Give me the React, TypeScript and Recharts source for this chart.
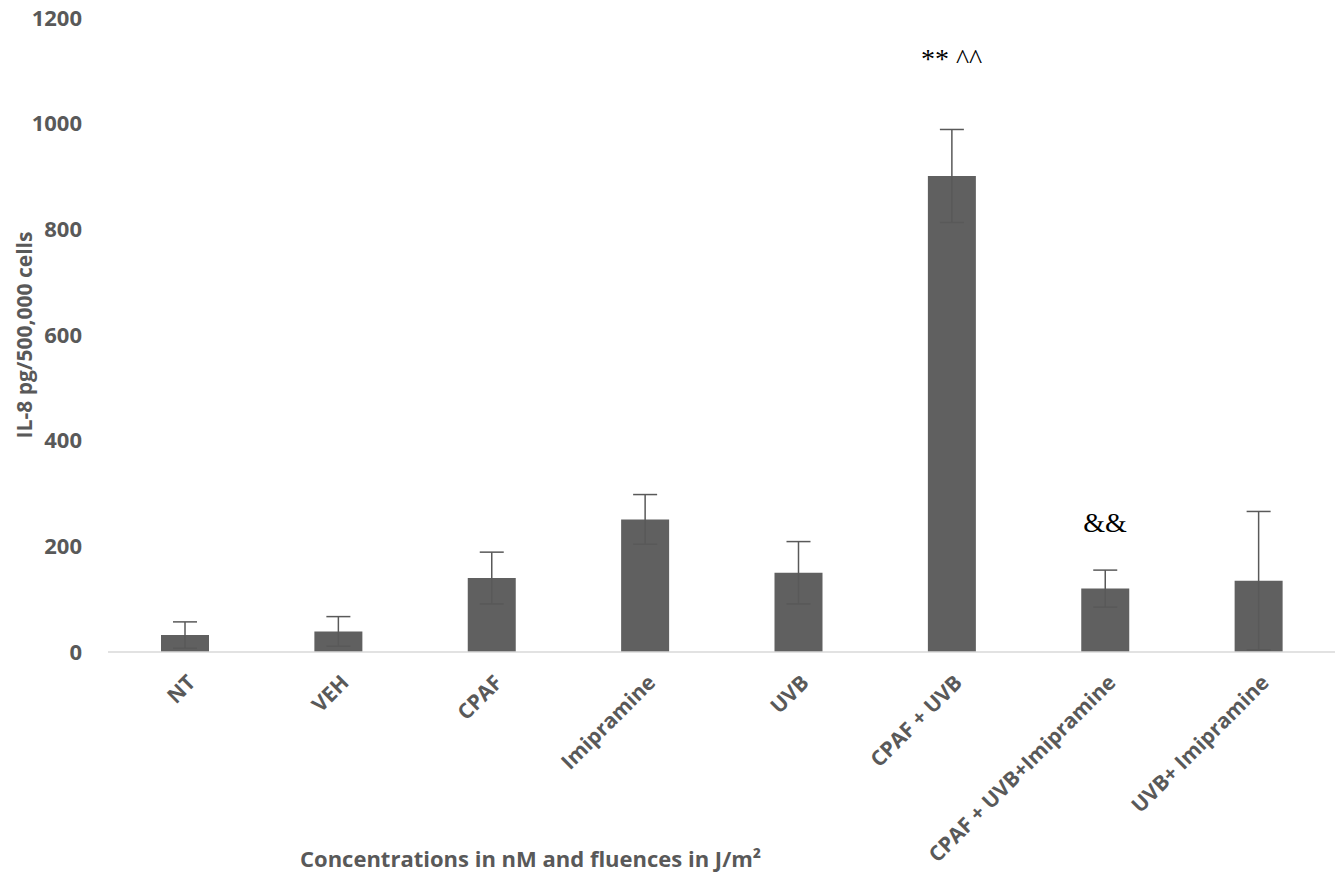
import { BarChart, Bar, XAxis, YAxis, ErrorBar, ReferenceDot } from 'recharts';

const groups = ['NT', 'VEH', 'CPAF', 'Imipramine', 'UVB', 'CPAF + UVB', 'CPAF + UVB+Imipramine', 'UVB+ Imipramine'];
const il8 = [32, 39, 140, 251, 150, 901, 120, 135];
const sd = [25, 28, 49, 47, 59, 88, 35, 131];
const yTicks = [0, 200, 400, 600, 800, 1000, 1200];

const notes = [
  { group: 'CPAF + UVB', y: 1124, text: '** ^^' },
  { group: 'CPAF + UVB+Imipramine', y: 245, text: '&&' },
];

const data = groups.map((g, i) => ({ group: g, il8: il8[i], sd: sd[i] }));

const grey = '#595959';
const font = "'Open Sans', sans-serif";

const XTick = (props: any) => {
  const { x, y, payload } = props;
  return (
    <g transform={`translate(${x + 12},${y + 24})`}>
      <text transform="rotate(-45)" textAnchor="end" fill={grey} fontFamily={font} fontWeight={700} fontSize={21}>
        {payload.value}
      </text>
    </g>
  );
};

const YTitle = (props: any) => {
  const { viewBox } = props;
  const x = viewBox.x + 32;
  const y = viewBox.y + viewBox.height / 2;
  return (
    <text x={x} y={y} transform={`rotate(-90 ${x} ${y})`} textAnchor="middle" fill={grey} fontFamily={font} fontWeight={700} fontSize={21}>
      IL-8 pg/500,000 cells
    </text>
  );
};

const XTitle = (props: any) => {
  const { viewBox } = props;
  return (
    <text x={300} y={viewBox.y + 215} textAnchor="start" fill={grey} fontFamily={font} fontWeight={700} fontSize={22}>
      Concentrations in nM and fluences in J/m²
    </text>
  );
};

export default function App() {
  return (
    <div style={{ position: 'absolute', left: 0, top: 0, background: '#fff' }}>
      <BarChart width={1338} height={875} data={data} margin={{ top: 18, right: 3, left: 0, bottom: 0 }} barSize={48}>
        <XAxis
          dataKey="group"
          interval={0}
          tickLine={false}
          stroke="#d9d9d9"
          strokeWidth={1.5}
          tick={<XTick />}
          height={223}
          label={<XTitle />}
        />
        <YAxis
          width={108}
          domain={[0, 1200]}
          ticks={yTicks}
          axisLine={false}
          tickLine={false}
          tickSize={0}
          tickMargin={26}
          tick={{ fill: grey, fontFamily: font, fontWeight: 700, fontSize: 22 }}
          label={<YTitle />}
        />
        <Bar dataKey="il8" fill="#606060" isAnimationActive={false}>
          <ErrorBar dataKey="sd" width={12} stroke={grey} strokeWidth={1.5} />
        </Bar>
        {notes.map((n) => (
          <ReferenceDot
            key={n.text}
            x={n.group}
            y={n.y}
            r={0}
            fill="none"
            stroke="none"
            label={{ value: n.text, position: 'center', fill: '#000', fontFamily: "'Liberation Serif', serif", fontSize: 28 }}
          />
        ))}
      </BarChart>
    </div>
  );
}
